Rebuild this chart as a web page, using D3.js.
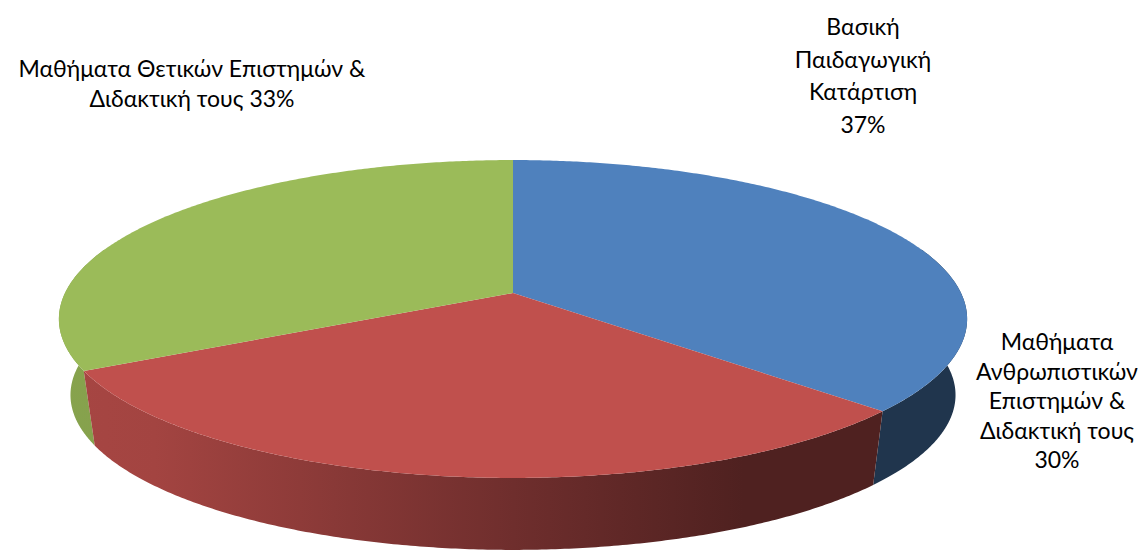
<!DOCTYPE html>
<html>
<head>
<meta charset="utf-8">
<script src="https://cdn.jsdelivr.net/npm/d3@7"></script>
<style>
    body { margin: 0; background: #fff; }
    text { font-family: Lato, "Open Sans", sans-serif; fill: #000; }
</style>
</head>
<body>
<div id="pie-viz"></div>
<script>
// slice data, in drawing order (clockwise from 12 o'clock)
const categories = ['Βασική Παιδαγωγική Κατάρτιση',
    'Μαθήματα Ανθρωπιστικών Επιστημών & Διδακτική τους',
    'Μαθήματα Θετικών Επιστημών & Διδακτική τους'];
const values = [36.9, 30.4, 32.7];
const colors = ['#4F81BD', '#C0504D', '#9BBB59'];
// how each label is broken into lines, as in the picture
const labelLines = [
    ['Βασική', 'Παιδαγωγική', 'Κατάρτιση'],
    ['Μαθήματα', 'Ανθρωπιστικών', 'Επιστημών &', 'Διδακτική τους'],
    ['Μαθήματα Θετικών Επιστημών &', 'Διδακτική τους']
];
const percentOnLastLine = [false, false, true];

function drawPie3d() {

    const width = 1139;
    const height = 551;

    // top face: circle seen in perspective, apex of the slices at (cx, cy)
    const cx = 513, cy = 293;
    const rx = 448, ry = 154.7, persp = 0.1635;
    // the bottom rim shrinks toward a vanishing point far below
    const vanX = 513, vanY = 3300, depthScale = 0.9745;

    const topPt = t => {
        const u = Math.cos(t), v = Math.sin(t), s = 1 / (1 - persp * v);
        return [cx + rx * u * s, cy + ry * v * s];
    };
    const bottomPt = t => {
        const p = topPt(t);
        return [vanX + (p[0] - vanX) * depthScale, vanY + (p[1] - vanY) * depthScale];
    };

    const svg = d3.select("#pie-viz").append("svg")
        .attr("width", width)
        .attr("height", height)
        .attr("viewBox", [0, 0, width, height]);

    const total = d3.sum(values);
    const arcs = d3.pie().sort(null).value(d => d)(values);
    const line = d3.line();
    const step = Math.PI / 360;

    const arcPoints = (t0, t1, fn) => {
        const n = Math.max(1, Math.ceil(Math.abs(t1 - t0) / step));
        return d3.range(n + 1).map(j => fn(t0 + (t1 - t0) * j / n));
    };

    // side shading: light on the left, dark on the right, flat beyond a point
    const defs = svg.append("defs");
    const shadeStops = [[-1.02, 0.87], [-0.8, 0.85], [0, 0.58], [0.515, 0.41], [1.02, 0.41]];
    colors.forEach((c, i) => {
        const base = d3.rgb(c);
        defs.append("linearGradient")
            .attr("id", "side-" + i)
            .attr("gradientUnits", "userSpaceOnUse")
            .attr("x1", cx - rx * 1.02).attr("y1", 0)
            .attr("x2", cx + rx * 1.02).attr("y2", 0)
            .selectAll("stop")
            .data(shadeStops)
            .join("stop")
                .attr("offset", d => (d[0] + 1.02) / 2.04)
                .attr("stop-color", d => d3.rgb(base.r * d[1], base.g * d[1], base.b * d[1]).formatHex());
    });

    // side walls, only the part that can face the viewer
    const lo = -0.3, hi = Math.PI + 0.3;
    const sides = arcs.map((a, i) => {
        const t0 = Math.max(lo, a.startAngle - Math.PI / 2);
        const t1 = Math.min(hi, a.endAngle - Math.PI / 2);
        return {i: i, t0: t0, t1: t1};
    }).filter(d => d.t1 > d.t0)
      .sort((a, b) => Math.sin((a.t0 + a.t1) / 2) - Math.sin((b.t0 + b.t1) / 2));

    svg.append("g")
        .selectAll("path")
        .data(sides)
        .join("path")
            .attr("fill", d => "url(#side-" + d.i + ")")
            .attr("d", d => line(arcPoints(d.t0, d.t1, topPt)
                .concat(arcPoints(d.t1, d.t0, bottomPt))) + "Z");

    // top faces
    svg.append("g")
        .selectAll("path")
        .data(arcs)
        .join("path")
            .attr("fill", (d, i) => colors[i])
            .attr("d", d => line([[cx, cy]].concat(
                arcPoints(d.startAngle - Math.PI / 2, d.endAngle - Math.PI / 2, topPt))) + "Z");

    // labels: centre x, first baseline, line spacing
    const labelPos = [
        {x: 863, y: 35, dy: 32.5},
        {x: 1057, y: 350, dy: 29.5},
        {x: 192, y: 77, dy: 30}
    ];

    labelLines.forEach((lines, i) => {
        const pct = Math.round(values[i] / total * 100) + '%';
        let rows = lines.slice();
        if (percentOnLastLine[i]) rows[rows.length - 1] += ' ' + pct;
        else rows.push(pct);

        svg.append("text")
            .attr("text-anchor", "middle")
            .attr("font-size", 23)
            .selectAll("tspan")
            .data(rows)
            .join("tspan")
                .attr("x", labelPos[i].x)
                .attr("y", (d, j) => labelPos[i].y + j * labelPos[i].dy)
                .text(d => d);
    });
}

drawPie3d();
</script>
</body>
</html>
